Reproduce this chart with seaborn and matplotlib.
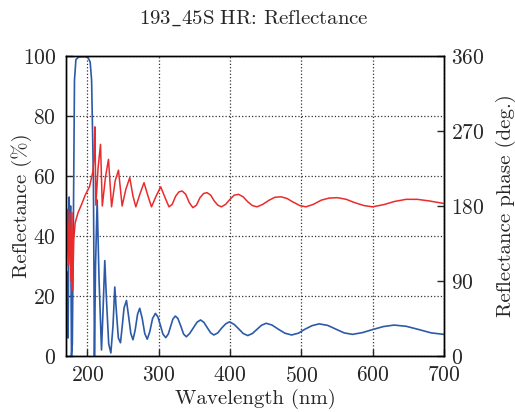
import matplotlib
matplotlib.use('Agg')
import matplotlib.pyplot as plt
import seaborn as sns

# Reflectance (%)
wl_refl = [170, 171.5, 173, 174.5, 175.5, 176.5, 177.8, 179, 180.5, 182,
           184, 188, 196, 201, 204, 206, 208.5, 210, 211.5, 213.8,
           216.5, 219.9, 222, 224.5, 227, 230, 233, 236, 238.5, 241,
           243.5, 246.5, 249, 251.5, 254.9, 258, 261, 264, 267, 270.5,
           273.5, 277, 280.5, 284, 287.5, 291.5, 295.5, 299, 302.5, 306,
           310, 313.5, 317, 320, 323.4, 327, 331, 335, 338.8, 343.5,
           349, 354, 358.8, 363.5, 368, 373, 377.4, 383, 388, 394,
           399.4, 406, 412, 418.5, 425, 431.5, 438, 444, 450.7, 459,
           468, 477, 486.5, 496, 505, 515, 525, 537, 548, 560,
           571.8, 586, 600, 615, 630, 647, 665, 682, 700]
refl = [2, 28, 6, 53, 38, 50, 0, 4, 45, 92,
        98.8, 99.7, 99.8, 99.5, 98, 92, 60, 0, 30, 52,
        25, 2, 15, 31.8, 18, 4, 1, 10, 23, 14,
        6, 4.4, 10, 16, 18.5, 13, 7.5, 5.4, 8.5, 14,
        15.9, 12.5, 7.5, 5.6, 8, 12.5, 14.2, 13, 10.2, 7.3,
        6.1, 7.3, 10, 12.3, 13.3, 12.5, 10, 7.3, 6.4, 7.5,
        9.5, 11.3, 12.0, 11.2, 9.5, 7.7, 7.0, 7.7, 9.2, 10.7,
        11.4, 10.5, 9.1, 7.5, 6.8, 7.5, 8.9, 10.2, 10.9, 10.3,
        8.9, 7.6, 7.0, 7.6, 8.9, 10.1, 10.7, 10.2, 9.0, 7.7,
        7.2, 7.8, 8.8, 9.8, 10.3, 9.9, 8.8, 7.7, 7.2]

# Reflectance phase (deg.)
wl_phase = [170, 171, 172.5, 174, 175.5, 177, 178.5, 179.5, 181, 183,
            187, 192, 197, 203, 208, 209.8, 210.6, 212, 215, 218.5,
            221, 225.5, 229.7, 234, 239, 243.7, 248.8, 254, 259.5, 264,
            268, 274, 279.5, 285, 290, 296.5, 302.9, 309, 314.5, 319,
            324, 328.5, 333, 338, 343, 348, 353, 358, 363, 368,
            373, 378, 383, 388, 394, 400, 406, 412, 418.5, 425,
            431.5, 438, 446, 455, 463, 471.7, 480, 489, 498, 506.6,
            517, 528, 539, 550.8, 563, 575, 588, 599.8, 615, 631,
            647, 662.7, 680, 700]
phase = [176, 108, 176, 110, 172, 90, 172, 79, 140, 160,
         172, 182, 193, 203, 222, 245, 275, 181, 225, 254,
         180, 215, 236, 179, 210, 223, 180, 200, 214, 192,
         179, 195, 208, 192, 179, 192, 203, 190, 179, 182,
         192, 197, 198, 194, 184, 178, 181, 190, 195, 196,
         193, 186, 181, 179, 182, 188, 193, 194, 191, 185,
         180.5, 179, 182, 187, 190.5, 191, 189, 184.5, 180.5, 179,
         182, 187, 189.5, 190, 188, 184, 180.5, 179, 181.5, 185.5,
         188, 188, 186, 183]

sns.set_style('ticks')
plt.rcParams['font.family'] = ['cmr10', 'DejaVu Serif']
plt.rcParams['axes.formatter.use_mathtext'] = True
plt.rcParams['mathtext.fontset'] = 'cm'

fig = plt.figure(figsize=(5.15, 4.12), dpi=100)
ax = fig.add_axes([0.128, 0.136, 0.734, 0.728])
ax2 = ax.twinx()

sns.lineplot(x=wl_refl, y=refl, ax=ax, color='#2c5aa8', lw=1.2,
             estimator=None, sort=False)
sns.lineplot(x=wl_phase, y=phase, ax=ax2, color='#ea2b2b', lw=1.1,
             estimator=None, sort=False)

ax.set_xlim(170, 700)
ax.set_ylim(0, 100)
ax2.set_ylim(0, 360)
ax.set_xticks([200, 300, 400, 500, 600, 700])
ax.set_yticks([0, 20, 40, 60, 80, 100])
ax2.set_yticks([0, 90, 180, 270, 360])

ax.grid(True, linestyle=':', color='#333333', lw=0.9)
ax.tick_params(direction='in', length=5, width=1, labelsize=15.5, pad=7)
ax.tick_params(axis='y', pad=7)
ax2.tick_params(direction='in', length=5, width=1, labelsize=15.5, pad=5)

for a in (ax, ax2):
    for s in a.spines.values():
        s.set_visible(True)
        s.set_color('black')
        s.set_linewidth(1)

ax.set_xlabel('Wavelength (nm)', fontsize=15, labelpad=2)
ax.set_ylabel('Reflectance (%)', fontsize=15, labelpad=2)
ax2.set_ylabel('Reflectance phase (deg.)', fontsize=15, labelpad=5)
ax.yaxis.set_label_coords(-0.09, 0.5)
ax2.yaxis.set_label_coords(1.138, 0.5)
fig.text(0.493, 0.956, r'$\mathrm{193\_45S\ HR}$: Reflectance', fontsize=15,
         ha='center', va='center')

fig.savefig('out.png', dpi=100)
